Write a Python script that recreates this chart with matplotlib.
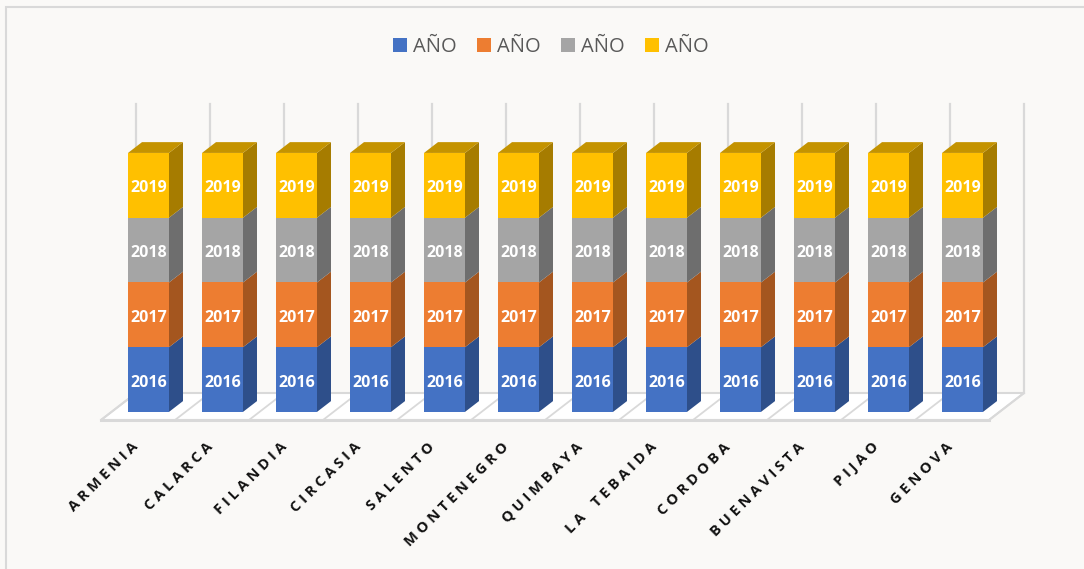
import matplotlib
matplotlib.use('Agg')
import matplotlib.pyplot as plt
from matplotlib.patches import Polygon, Patch, Rectangle

# Data: each municipality stacks the four years (value = year, as in the data labels)
municipios = ['ARMENIA', 'CALARCA', 'FILANDIA', 'CIRCASIA', 'SALENTO', 'MONTENEGRO',
              'QUIMBAYA', 'LA TEBAIDA', 'CORDOBA', 'BUENAVISTA', 'PIJAO', 'GENOVA']
anio_2016 = [2016] * 12
anio_2017 = [2017] * 12
anio_2018 = [2018] * 12
anio_2019 = [2019] * 12
series = [anio_2016, anio_2017, anio_2018, anio_2019]
legend_labels = ['AÑO', 'AÑO', 'AÑO', 'AÑO']

front_colors = ['#4472C4', '#ED7D31', '#A5A5A5', '#FFC000']
side_colors = ['#2E4F8A', '#A4561F', '#6E6E6E', '#A67C00']
top_colors = ['#3A62A8', '#C96A28', '#8C8C8C', '#C49300']

# figure / pseudo-3D geometry (pixels)
W, H, DPI = 1084, 569, 100
PITCH = 74.0        # px per category
X0 = 138.0          # px, front centre of first category
Y0 = 420.0          # px from top, front edge of floor
PXV = 0.03209       # px per value unit
YMAX = 9000
dx = 35.0 / PITCH   # depth vector in data units
dy = 27.0 / PXV
bar_w = 41.0 / PITCH
d_front, d_back = 0.3, 0.7

fig = plt.figure(figsize=(W / DPI, H / DPI), dpi=DPI)
fig.patch.set_facecolor('#FAF9F7')
ax = fig.add_axes([0, 0, 1, 1])
ax.set_xlim(-X0 / PITCH, (W - X0) / PITCH)
ax.set_ylim((Y0 - H) / PXV, Y0 / PXV)
ax.axis('off')

# chart border
fig.patches.append(Rectangle((6 / W, -0.1), 1.2, 1 - 7 / H + 0.1, transform=fig.transFigure,
                             fill=False, edgecolor='#D9D9D9', linewidth=1.5))

n = len(municipios)
# floor
floor = Polygon([(-0.5, 0), (n - 0.5, 0), (n - 0.5 + dx, dy), (-0.5 + dx, dy)],
                closed=True, facecolor='#FFFFFF', edgecolor='#D9D9D9', linewidth=1.5, zorder=1)
ax.add_patch(floor)
ax.plot([-0.5, n - 0.5], [0, 0], color='#D9D9D9', lw=2.2, zorder=1.5)
for k in range(n + 1):
    ax.plot([k - 0.5, k - 0.5 + dx], [0, dy], color='#D9D9D9', lw=1.3, zorder=1.2)
    # back wall vertical gridlines
    ax.plot([k - 0.5 + dx, k - 0.5 + dx], [dy, YMAX + dy], color='#D9D9D9', lw=1.6, zorder=1.2)

# stacked pseudo-3D bars
ox, oy = d_front * dx, d_front * dy
sx, sy = (d_back - d_front) * dx, (d_back - d_front) * dy
lab_shift = 3 / PXV
bottoms = [0.0] * n
for s, vals in enumerate(series):
    xs = [i + ox for i in range(n)]
    bs = [b + oy for b in bottoms]
    ax.bar(xs, vals, width=bar_w, bottom=bs, color=front_colors[s], linewidth=0, zorder=3)
    for i in range(n):
        xr = xs[i] + bar_w / 2
        xl = xs[i] - bar_w / 2
        y_lo, y_hi = bs[i], bs[i] + vals[i]
        ax.add_patch(Polygon([(xr, y_lo), (xr + sx, y_lo + sy), (xr + sx, y_hi + sy), (xr, y_hi)],
                             closed=True, facecolor=side_colors[s], linewidth=0, zorder=3))
        if s == len(series) - 1:
            ax.add_patch(Polygon([(xl, y_hi), (xr, y_hi), (xr + sx, y_hi + sy), (xl + sx, y_hi + sy)],
                                 closed=True, facecolor=top_colors[s], linewidth=0, zorder=3))
        ax.text(xs[i], (y_lo + y_hi) / 2 - lab_shift, str(vals[i]), ha='center', va='center',
                color='white', fontsize=11.5, fontweight='bold', family='Open Sans', zorder=4)
    bottoms = [b + v for b, v in zip(bottoms, vals)]

# category labels, rotated, letter-spaced
y_lab = (Y0 - 440) / PXV
for i, name in enumerate(municipios):
    spaced = ' '.join(name).replace('   ', '    ')
    ax.text(i - 0.09, y_lab, spaced, rotation=45, rotation_mode='anchor', ha='right', va='top',
            fontsize=10.5, fontweight='bold', color='#111111', family='Open Sans')

handles = [Patch(facecolor=c, edgecolor='none') for c in front_colors]
fig.legend(handles, legend_labels, loc='center', bbox_to_anchor=(0.508, 1 - 47 / H), ncol=4,
           frameon=False, handlelength=0.7, handleheight=0.7, handletextpad=0.3,
           columnspacing=1.0, labelcolor='#595959', prop={'family': 'Open Sans', 'size': 14.5})

fig.savefig('out.png', dpi=DPI, facecolor=fig.get_facecolor())
